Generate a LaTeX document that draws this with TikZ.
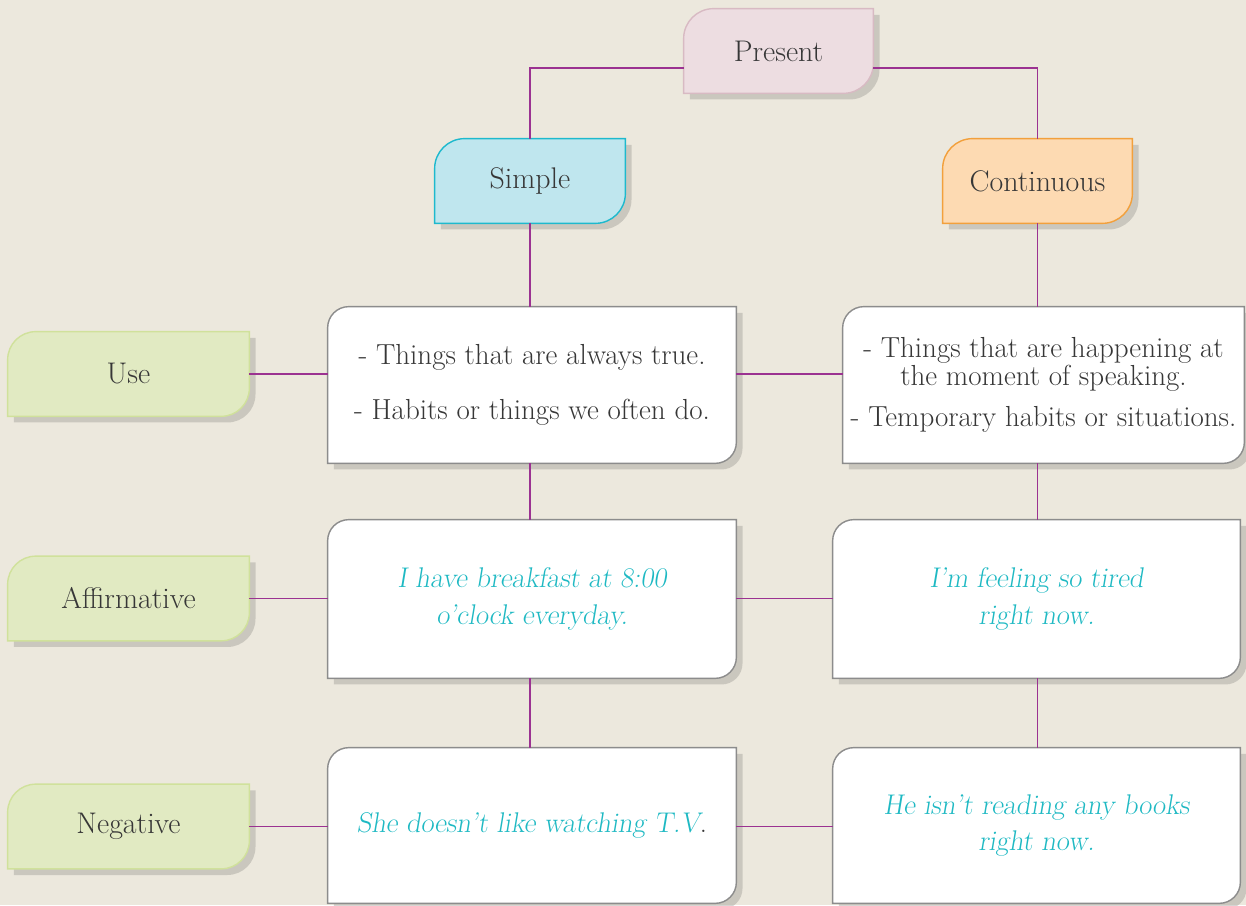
\documentclass[tikz,border=0pt]{standalone}
\usepackage{fontspec}
\usepackage{xcolor}
\usepackage{tikz}
\usetikzlibrary{positioning,calc,backgrounds,shadows}
\definecolor{bgcol}{RGB}{236,232,221}
\definecolor{linkcol}{RGB}{155,50,145}
\definecolor{textcol}{RGB}{55,55,55}
\definecolor{examplecol}{RGB}{30,185,195}
\definecolor{presentcol}{RGB}{237,221,225}
\definecolor{presentborder}{RGB}{216,186,195}
\definecolor{simplecol}{RGB}{191,230,238}
\definecolor{simpleborder}{RGB}{30,185,205}
\definecolor{contcol}{RGB}{253,218,178}
\definecolor{contborder}{RGB}{242,160,60}
\definecolor{labelcol}{RGB}{225,234,194}
\definecolor{labelborder}{RGB}{208,225,155}
\definecolor{boxborder}{RGB}{140,140,140}

\begin{document}
\begin{tikzpicture}[
                x=0.02cm, y=0.02cm,
                font=\fontsize{16.5}{16}\selectfont,
                text=textcol,
                headnode/.style={rectangle, inner sep=0pt, align=center, font=\fontsize{17}{20}\selectfont, minimum height=84*0.02cm},
                sidenode/.style={headnode, minimum width=241*0.02cm},
                infonode/.style={rectangle, inner sep=0pt, align=center, minimum width=408*0.02cm, minimum height=156*0.02cm},
                examplenode/.style={infonode, text=examplecol, font=\fontsize{16.2}{21}\selectfont\slshape},
                link/.style={draw=linkcol, line width=1pt},
                leafshadow/.style={drop shadow={shadow xshift=3.5pt, shadow yshift=-3.5pt, fill=black!35!bgcol, opacity=0.4}}
                ]
                % tense headers
                \node[headnode, minimum width=189*0.02cm] (present) at (778.5,854) {Present};
                \node[headnode, minimum width=190*0.02cm] (simple) at (530,724) {Simple};
                \node[headnode, minimum width=189*0.02cm] (continuous) at (1037.5,724) {Continuous};

                % row labels
                \node[sidenode] (use) at (128.5,531) {Use};
                \node[sidenode] (affirmative) at (128.5,306.5) {Affirmative};
                \node[sidenode] (negative) at (128.5,78.5) {Negative};

                % simple column
                \node[infonode] (simpleuse) at (532,520) {- Things that are always true.\\[15pt] - Habits or things we often do.};
                \node[examplenode, minimum height=158*0.02cm] (simpleaff) at (532,306) {I have breakfast at 8:00\\o'clock everyday.};
                \node[examplenode, minimum height=155*0.02cm] (simpleneg) at (532,79.5) {She doesn't like watching T.V\textcolor{textcol}{\upshape.}};

                % continuous column
                \node[infonode, minimum width=401*0.02cm] (contuse) at (1043.5,520) {- Things that are happening at\\the moment of speaking.\\[7pt] - Temporary habits or situations.};
                \node[examplenode, minimum width=407*0.02cm, minimum height=158*0.02cm] (contaff) at (1036.5,306) {I'm feeling so tired\\right now.};
                \node[examplenode, minimum width=407*0.02cm, minimum height=155*0.02cm] (contneg) at (1036.5,79.5) {He isn't reading any books\\right now.};

                % leaf shaped boxes behind the text
                \begin{scope}[on background layer]
                    \fill[bgcol] (0,0) rectangle (1246,905);
                    \foreach \n/\f/\d/\r in {present/presentcol/presentborder/17pt, simple/simplecol/simpleborder/17pt,
                            continuous/contcol/contborder/17pt, use/labelcol/labelborder/16pt,
                            affirmative/labelcol/labelborder/16pt, negative/labelcol/labelborder/16pt,
                            simpleuse/white/boxborder/12pt, simpleaff/white/boxborder/12pt, simpleneg/white/boxborder/12pt,
                            contuse/white/boxborder/12pt, contaff/white/boxborder/12pt, contneg/white/boxborder/12pt}
                        \draw[draw=\d, fill=\f, line width=0.8pt, leafshadow] (\n.south west) -- ([yshift=-\r]\n.north west)
                            arc[start angle=180, end angle=90, radius=\r] -- (\n.north east)
                            -- ([yshift=\r]\n.south east) arc[start angle=0, end angle=-90, radius=\r] -- cycle;
                \end{scope}

                % connectors
                \coordinate (presentleft) at ($(present.west)+(0,-17)$);
                \coordinate (presentright) at ($(present.east)+(0,-17)$);
                \draw[link] (presentleft) -| (simple.north);
                \draw[link] (presentright) -| (continuous.north);
                \draw[link] (simple.south) -- (simple |- simpleuse.north);
                \draw[link] (simple |- simpleuse.south) -- (simple |- simpleaff.north);
                \draw[link] (simple |- simpleaff.south) -- (simple |- simpleneg.north);
                \draw[link] (continuous.south) -- (continuous |- contuse.north);
                \draw[link] (continuous |- contuse.south) -- (continuous |- contaff.north);
                \draw[link] (continuous |- contaff.south) -- (continuous |- contneg.north);

                \draw[link] (use.east) -- (use.east -| simpleuse.west);
                \draw[link] (use -| simpleuse.east) -- (use -| contuse.west);
                \draw[link] (affirmative.east) -- (affirmative.east -| simpleaff.west);
                \draw[link] (affirmative -| simpleaff.east) -- (affirmative -| contaff.west);
                \draw[link] (negative.east) -- (negative.east -| simpleneg.west);
                \draw[link] (negative -| simpleneg.east) -- (negative -| contneg.west);

                \useasboundingbox (0,0) rectangle (1246,905);
            \end{tikzpicture}
\end{document}
